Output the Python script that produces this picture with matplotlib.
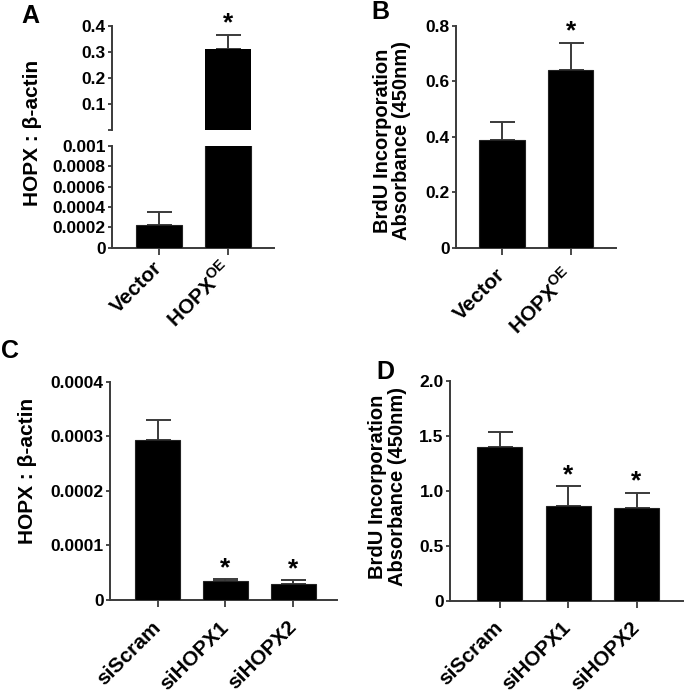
import matplotlib
matplotlib.use("Agg")
import matplotlib.pyplot as plt

plt.rcParams["font.family"] = ["Liberation Sans", "DejaVu Sans"]
plt.rcParams["font.weight"] = "bold"
plt.rcParams["mathtext.fontset"] = "custom"
plt.rcParams["mathtext.rm"] = "Liberation Sans:bold"
plt.rcParams["mathtext.bf"] = "Liberation Sans:bold"

# ---- data ----
oe_groups = ["Vector", r"HOPX$^{\mathrm{OE}}$"]
si_groups = ["siScram", "siHOPX1", "siHOPX2"]

a_means = [0.000223, 0.31]
a_errs = [0.000125, 0.056]
a_stars = [False, True]

b_means = [0.39, 0.64]
b_errs = [0.065, 0.10]
b_stars = [False, True]

c_means = [0.000293, 0.0000354, 0.0000299]
c_errs = [0.000037, 0.0000031, 0.0000067]
c_stars = [False, True, True]

d_means = [1.40, 0.864, 0.845]
d_errs = [0.13, 0.176, 0.135]
d_stars = [False, True, True]

W, H = 685, 693
LINE = "#3a3a3a"
fig = plt.figure(figsize=(W / 100, H / 100), dpi=100)


def box(left, top, right, bottom):
    # pixel box -> figure fraction
    return [left / W, 1 - bottom / H, (right - left) / W, (bottom - top) / H]


def style(ax, bottom=True):
    for s in ["top", "right"]:
        ax.spines[s].set_visible(False)
    for s in ["left", "bottom"]:
        ax.spines[s].set_color(LINE)
        ax.spines[s].set_linewidth(1.4)
    ax.spines["bottom"].set_visible(bottom)
    ax.tick_params(axis="y", direction="out", length=3, width=1.3,
                   color=LINE, pad=1.5, labelsize=12.5)
    ax.tick_params(axis="x", direction="out", length=5, width=1.3,
                   color=LINE, pad=3)


def draw(ax, means, errs, stars, lw=0.8, show_err=None):
    xs = list(range(len(means)))
    ax.bar(xs, means, width=0.66, color="black", edgecolor="#222222",
           linewidth=lw, zorder=3)
    for i, (m, e, st) in enumerate(zip(means, errs, stars)):
        if show_err is not None and not show_err(m + e):
            continue
        ax.errorbar(i, m, yerr=[[0], [e]], fmt="none", ecolor=LINE,
                    elinewidth=1.4, capsize=9, capthick=1.4, zorder=2)
        if st:
            ax.annotate("*", (i, m + e), xytext=(0, 3), textcoords="offset points",
                        ha="center", va="baseline", fontsize=19, fontweight="bold")


def xlabels(ax, labels):
    ax.set_xticks(range(len(labels)))
    ax.set_xticklabels(labels, rotation=45, ha="right", va="center",
                       rotation_mode="anchor", fontsize=15, fontweight="bold")
    for t in ax.get_xticklabels():
        t.set_y(-0.06)


# ---- panel A: broken axis ----
a_lo = fig.add_axes(box(112, 146, 274, 247.7))
a_hi = fig.add_axes(box(112, 26, 274, 129.6))
for ax in (a_lo, a_hi):
    ax.set_xlim(-0.68, 1.66)
style(a_lo)
style(a_hi, bottom=False)
a_lo.set_ylim(0, 0.001)
a_hi.set_ylim(0, 0.4)
draw(a_lo, a_means, a_errs, a_stars, show_err=lambda top: top <= 0.001)
draw(a_hi, a_means, a_errs, a_stars, lw=0, show_err=lambda top: top > 0.001)
a_lo.set_yticks([0, 0.0002, 0.0004, 0.0006, 0.0008, 0.001])
a_lo.set_yticklabels(["0", "0.0002", "0.0004", "0.0006", "0.0008", "0.001"])
a_hi.set_yticks([0, 0.1, 0.2, 0.3, 0.4])
a_hi.set_yticklabels(["", "0.1", "0.2", "0.3", "0.4"])
a_hi.set_xticks([])
xlabels(a_lo, oe_groups)

# ---- panel B ----
ax_b = fig.add_axes(box(456, 26, 616, 247.7))
ax_b.set_xlim(-0.67, 1.66)
style(ax_b)
ax_b.set_ylim(0, 0.8)
draw(ax_b, b_means, b_errs, b_stars)
ax_b.set_yticks([0, 0.2, 0.4, 0.6, 0.8])
ax_b.set_yticklabels(["0", "0.2", "0.4", "0.6", "0.8"])
xlabels(ax_b, oe_groups)

# ---- panel C ----
ax_c = fig.add_axes(box(110, 381.7, 336.7, 600))
ax_c.set_xlim(-0.70, 2.64)
style(ax_c)
ax_c.set_ylim(0, 0.0004)
draw(ax_c, c_means, c_errs, c_stars)
ax_c.set_yticks([0, 0.0001, 0.0002, 0.0003, 0.0004])
ax_c.set_yticklabels(["0", "0.0001", "0.0002", "0.0003", "0.0004"])
xlabels(ax_c, si_groups)

# ---- panel D ----
ax_d = fig.add_axes(box(450, 380.7, 683, 600.7))
ax_d.set_xlim(-0.73, 2.68)
style(ax_d)
ax_d.set_ylim(0, 2.0)
draw(ax_d, d_means, d_errs, d_stars)
ax_d.set_yticks([0, 0.5, 1.0, 1.5, 2.0])
ax_d.set_yticklabels(["0", "0.5", "1.0", "1.5", "2.0"])
xlabels(ax_d, si_groups)

# ---- y labels and panel letters ----
hopx_lab = "HOPX : β-actin"
brdu_lab = "BrdU Incorporation\nAbsorbance (450nm)"
fig.text(32.5 / W, 1 - 132.5 / H, hopx_lab, rotation=90, ha="center", va="center",
         fontsize=15, fontweight="bold")
fig.text(392 / W, 1 - 141 / H, brdu_lab, rotation=90, ha="center", va="center",
         fontsize=14.5, fontweight="bold", multialignment="center", linespacing=1.05)
fig.text(27.5 / W, 1 - 471 / H, hopx_lab, rotation=90, ha="center", va="center",
         fontsize=15, fontweight="bold")
fig.text(387.5 / W, 1 - 486.5 / H, brdu_lab, rotation=90, ha="center", va="center",
         fontsize=14.5, fontweight="bold", multialignment="center", linespacing=1.05)

for letter, x, y in [("A", 21, 4), ("B", 371, 0), ("C", 1, 339), ("D", 376, 360)]:
    fig.text(x / W, 1 - y / H, letter, ha="left", va="top", fontsize=18,
             fontweight="bold")

fig.savefig("out.png", dpi=100)
